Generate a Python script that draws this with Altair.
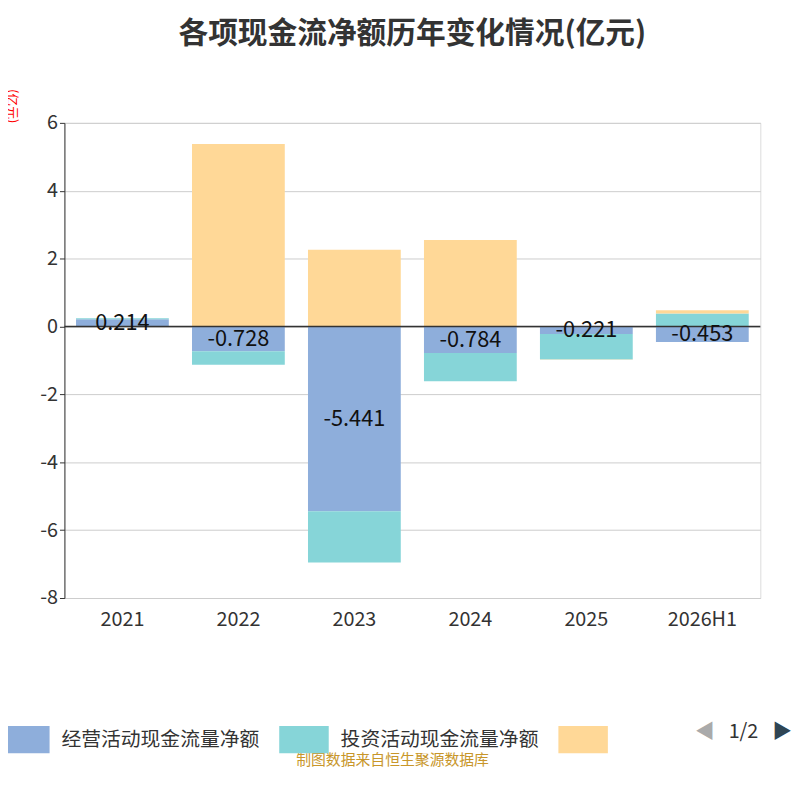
import altair as alt
import pandas as pd

years = ["2021", "2022", "2023", "2024", "2025", "2026H1"]
series = ["经营活动现金流量净额", "投资活动现金流量净额", "筹资活动现金流量净额"]
operating = [0.214, -0.728, -5.441, -0.784, -0.221, -0.453]
investing = [0.03, -0.40, -1.51, -0.83, -0.75, 0.38]
financing = [-0.01, 5.38, 2.26, 2.55, -0.01, 0.10]
colors = ["#8eaedb", "#86d5d8", "#ffd897"]

rows = []
for vals, name, k in [(operating, series[0], 0), (investing, series[1], 1), (financing, series[2], 2)]:
    for y, v in zip(years, vals):
        rows.append({"year": y, "series": name, "value": v, "k": k})
df = pd.DataFrame(rows)
lab = pd.DataFrame({"year": years, "value": operating,
                    "mid": [v / 2 for v in operating],
                    "txt": [f"{v:.3f}" for v in operating]})

W, H = 703, 480
x = alt.X("year:N", sort=years, title=None,
          scale=alt.Scale(paddingInner=0.2, paddingOuter=0.1),
          axis=alt.Axis(labelAngle=0, labelFontSize=20, labelColor="#333", labelPadding=12,
                        domain=False, ticks=False))

bars = alt.Chart(df).mark_bar().encode(
    x=x,
    y=alt.Y("value:Q", stack="zero", title="(亿元)",
            scale=alt.Scale(domain=[-8, 6], nice=False),
            axis=alt.Axis(values=list(range(-8, 7, 2)), labelFontSize=20, labelColor="#333",
                          labelExpr="replace(datum.label, '−', '-')",
                          domainColor="#333", tickColor="#333", gridColor="#cccccc",
                          titleColor="red", titleFontSize=13, titleFontWeight="normal",
                          titleAngle=90, titleAnchor="end", titleX=-60, titleY=0)),
    color=alt.Color("series:N", sort=series,
                    scale=alt.Scale(domain=series, range=colors),
                    legend=alt.Legend(orient="none", legendX=-65, legendY=598, direction="horizontal",
                                      title=None, labelFontSize=20, labelColor="#333", labelLimit=0,
                                      symbolType="M-1,-0.55L1,-0.55L1,0.55L-1,0.55Z",
                                      symbolSize=2500, symbolOpacity=1, symbolStrokeWidth=0,
                                      columnPadding=20, labelOffset=12,
                                      labelExpr="datum.label == '筹资活动现金流量净额' ? '' : datum.label")),
    order=alt.Order("k:Q"),
)

zero = alt.Chart(pd.DataFrame({"v": [0]})).mark_rule(color="#333", strokeWidth=1.5).encode(y="v:Q")

labels = alt.Chart(lab).mark_text(fontSize=22, color="#111").encode(
    x=alt.X("year:N", sort=years), y="mid:Q", text="txt:N")

pager = alt.Chart(pd.DataFrame({"t": ["◀", "1/2", "▶"], "c": ["#aaaaaa", "#333333", "#2f4554"],
                                "px": [647, 686, 725]})).mark_text(fontSize=20).encode(
    x=alt.X("px:Q", scale=None), y=alt.value(H + 135), text="t:N",
    color=alt.Color("c:N", scale=None))

footer = alt.Chart(pd.DataFrame({"t": ["制图数据来自恒生聚源数据库"]})).mark_text(
    fontSize=15, color="#c8962a").encode(x=alt.value(W / 2 - 20), y=alt.value(H + 164), text="t:N")

chart = alt.layer(bars, zero, labels, pager, footer).properties(
    width=W, height=H,
    autosize=alt.AutoSizeParams(type="none"),
    padding={"left": 57, "top": 112, "right": 32, "bottom": 200},
    title=alt.TitleParams("各项现金流净额历年变化情况(亿元)", fontSize=30, color="#333",
                          fontWeight="bold", anchor="middle", offset=40),
).configure_view(strokeWidth=0).configure(font="Noto Sans CJK SC")

chart.save("out.html", embed_options={"renderer": "svg", "actions": False})
